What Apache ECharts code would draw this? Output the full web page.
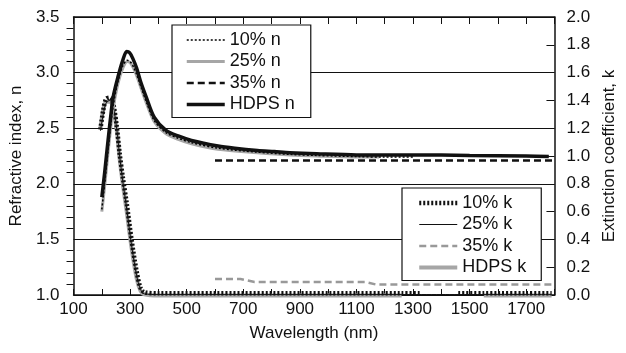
<!DOCTYPE html>
<html>
<head>
<meta charset="utf-8">
<script src="https://cdn.jsdelivr.net/npm/echarts@6/dist/echarts.min.js"></script>
<style>
  html, body { margin: 0; padding: 0; background: #fff; }
  #chart { width: 626px; height: 353px; }
</style>
</head>
<body>
<div id="chart"></div>
<script>
// refractive index n (left axis)
const wlN = [200, 210, 222, 232, 240, 257, 274, 288, 298, 309, 323, 337, 357, 385, 427, 470, 517, 611, 670, 750, 810, 865, 960, 1100, 1300, 1500, 1700, 1780];
const hdpsN = [1.88, 2.1, 2.39, 2.62, 2.78, 2.96, 3.11, 3.19, 3.18, 3.13, 3.04, 2.92, 2.78, 2.6, 2.48, 2.43, 2.39, 2.34, 2.32, 2.3, 2.29, 2.28, 2.27, 2.26, 2.26, 2.255, 2.25, 2.245];
const wl25N = [200, 210, 222, 232, 240, 257, 274, 290, 300, 312, 325, 340, 357, 385, 427, 470, 517, 611, 750, 865, 960, 1100, 1180];
const n25 = [1.75, 1.98, 2.28, 2.52, 2.68, 2.9, 3.04, 3.1, 3.09, 3.04, 2.96, 2.85, 2.73, 2.56, 2.45, 2.4, 2.36, 2.31, 2.28, 2.26, 2.25, 2.24, 2.24];
const wl10N = [200, 210, 222, 232, 240, 257, 274, 290, 300, 312, 325, 340, 357, 385, 427, 470, 517, 611, 750, 865, 960, 1100, 1200, 1300];
const n10 = [1.77, 2.0, 2.3, 2.54, 2.7, 2.92, 3.06, 3.11, 3.1, 3.05, 2.97, 2.86, 2.74, 2.57, 2.46, 2.41, 2.37, 2.32, 2.285, 2.265, 2.255, 2.245, 2.24, 2.24];
const wl35N = [600, 800, 1000, 1200, 1400, 1600, 1800];
const n35 = [2.21, 2.21, 2.21, 2.21, 2.21, 2.21, 2.21];

// extinction coefficient k (right axis)
const wlK = [195, 205, 215, 228, 239, 253, 263, 274, 288, 305, 323, 337, 350, 400, 600, 800, 1000, 1260, 1330, 1400, 1460, 1550, 1600, 1700, 1790];
const k10 = [1.19, 1.33, 1.41, 1.42, 1.39, 1.21, 1.02, 0.85, 0.66, 0.4, 0.17, 0.05, 0.02, 0.012, 0.012, 0.012, 0.012, 0.012, 0.012, null, 0.012, 0.012, 0.012, 0.012, 0.012];
const k25 = [1.18, 1.3, 1.38, 1.4, 1.37, 1.19, 1.0, 0.82, 0.62, 0.36, 0.14, 0.04, 0.008, 0.003, 0.003, 0.003, 0.003, 0.003, 0.003, 0.003, 0.003, 0.003, 0.003, 0.003, 0.003];
const hdpsK = [1.2, 1.33, 1.39, 1.39, 1.36, 1.18, 0.98, 0.8, 0.6, 0.34, 0.12, 0.03, 0.005, -0.004, -0.004, -0.004, -0.004, -0.004, null, null, null, -0.004, -0.004, -0.004, -0.004];
const wl35K = [600, 690, 740, 1130, 1170, 1800];
const k35 = [0.115, 0.115, 0.094, 0.094, 0.075, 0.075];

const xTicks = [100, 300, 500, 700, 900, 1100, 1300, 1500, 1700];

const zip = (xs, ys) => xs.map((x, i) => [x, ys[i]]);
const font = "Liberation Sans, Arial, sans-serif";
const ink = "#111";
const grayLine = "#a6a6a6";

// line looks, shared by series and legend samples
const styles = {
  "10% n": { color: "#000", width: 1.5, type: [2, 2], cap: "butt" },
  "25% n": { color: grayLine, width: 3 },
  "35% n": { color: ink, width: 2.5, type: [7, 4] },
  "HDPS n": { color: ink, width: 3.5 },
  "10% k": { color: ink, width: 4.5, type: [2, 2], cap: "butt" },
  "25% k": { color: ink, width: 1 },
  "35% k": { color: "#999", width: 2.5, type: [7, 4] },
  "HDPS k": { color: grayLine, width: 4 },
};

const chart = echarts.init(document.getElementById("chart"), null, { renderer: "canvas" });

const lineSeries = (name, data, yIdx, extra) => Object.assign({
  name, type: "line", data, yAxisIndex: yIdx, symbol: "none", smooth: 0.3,
  lineStyle: styles[name], itemStyle: { color: styles[name].color }, animation: false,
}, extra || {});

const legendItems = (names) => names.map((n) => ({ name: n, lineStyle: styles[n] }));

const legendBase = {
  orient: "vertical",
  backgroundColor: "#fff",
  borderColor: ink,
  borderWidth: 1.2,
  borderRadius: 0,
  itemWidth: 38,
  itemHeight: 14,
  itemGap: 0.5,
  itemStyle: { opacity: 0 },
  textStyle: { fontFamily: font, fontSize: 18, color: ink, lineHeight: 21 },
};

chart.setOption({
  backgroundColor: "#fff",
  animation: false,
  grid: { left: 73, right: 64, top: 17, bottom: 58 },
  legend: [
    Object.assign({}, legendBase, {
      left: 172, top: 25, padding: [4.5, 16, 2.5, 13],
      data: legendItems(["10% n", "25% n", "35% n", "HDPS n"]),
    }),
    Object.assign({}, legendBase, {
      left: 402, top: 188, padding: [4.5, 15, 2.5, 15],
      data: legendItems(["10% k", "25% k", "35% k", "HDPS k"]),
    }),
  ],
  xAxis: [
    {
      type: "value", min: 100, max: 1800, interval: 100,
      name: "Wavelength (nm)", nameLocation: "middle", nameGap: 30,
      nameTextStyle: { fontFamily: font, fontSize: 17, color: ink },
      axisLine: { lineStyle: { color: ink, width: 1.5 } },
      axisTick: { inside: true, length: 6, lineStyle: { color: ink } },
      axisLabel: {
        fontFamily: font, fontSize: 17, color: ink, margin: 6,
        formatter: (v) => (xTicks.includes(v) ? String(v) : ""),
      },
      splitLine: { show: false },
    },
    {
      type: "value", position: "top", min: 100, max: 1800, interval: 100,
      axisLine: { show: true, lineStyle: { color: ink, width: 1.5 } },
      axisTick: { inside: true, length: 7, lineStyle: { color: ink } },
      axisLabel: { show: false },
      splitLine: { show: false },
    },
  ],
  yAxis: [
    {
      type: "value", min: 1, max: 3.5, interval: 0.5,
      name: "Refractive index, n", nameLocation: "middle", nameGap: 41, nameRotate: 90,
      nameTextStyle: { fontFamily: font, fontSize: 17, color: ink },
      axisLine: { show: true, lineStyle: { color: ink, width: 1.5 } },
      axisTick: { show: false },
      minorTick: { show: true, splitNumber: 5, length: 7, lineStyle: { color: ink, width: 1 } },
      axisLabel: { fontFamily: font, fontSize: 17, color: ink, margin: 14, formatter: (v) => v.toFixed(1) },
      splitLine: { show: true, lineStyle: { color: ink, width: 1 } },
    },
    {
      type: "value", min: 0, max: 2, interval: 0.2, position: "right",
      name: "Extinction coefficient, k", nameLocation: "middle", nameGap: 40, nameRotate: 90,
      nameTextStyle: { fontFamily: font, fontSize: 17, color: ink },
      axisLine: { show: true, lineStyle: { color: ink, width: 1.5 } },
      axisTick: { inside: true, length: 8, lineStyle: { color: ink } },
      axisLabel: { fontFamily: font, fontSize: 17, color: ink, margin: 12, formatter: (v) => v.toFixed(1) },
      splitLine: { show: false },
    },
  ],
  series: [
    lineSeries("HDPS k", zip(wlK, hdpsK), 1, { clip: false }),
    lineSeries("35% k", zip(wl35K, k35), 1, { smooth: false }),
    lineSeries("25% k", zip(wlK, k25), 1),
    lineSeries("10% k", zip(wlK, k10), 1),
    lineSeries("25% n", zip(wl25N, n25), 0),
    lineSeries("10% n", zip(wl10N, n10), 0),
    lineSeries("35% n", zip(wl35N, n35), 0, { smooth: false }),
    lineSeries("HDPS n", zip(wlN, hdpsN), 0),
  ],
});
</script>
</body>
</html>
